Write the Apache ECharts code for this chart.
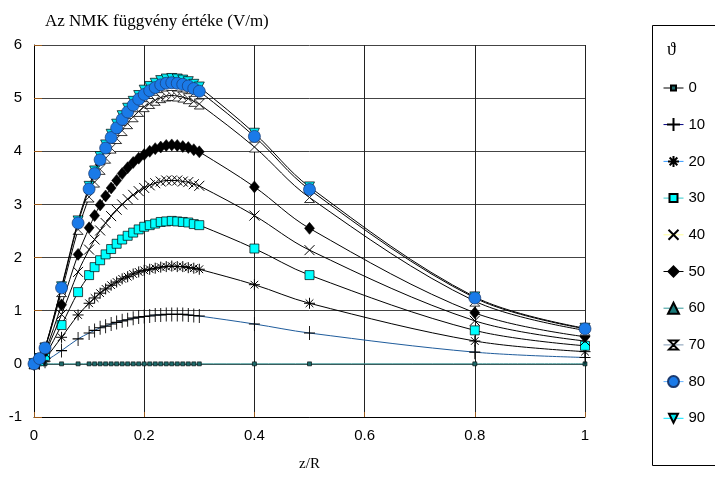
<!DOCTYPE html>
<html>
<head>
<meta charset="utf-8">
<script src="https://cdn.jsdelivr.net/npm/echarts@6/dist/echarts.min.js"></script>
<style>html,body{margin:0;padding:0;background:#fff}#c{width:715px;height:477px}</style>
</head>
<body>
<div id="c"></div>
<script>
// x positions (z/R)
const zR = [0, 0.01, 0.02, 0.05, 0.08, 0.10, 0.11, 0.12, 0.13, 0.14, 0.15, 0.16, 0.17, 0.18, 0.19, 0.20,
  0.21, 0.22, 0.23, 0.24, 0.25, 0.26, 0.27, 0.28, 0.29, 0.30, 0.4, 0.5, 0.8, 1.0];
const xTicks = ['0', '0.2', '0.4', '0.6', '0.8', '1'];
const yTicks = ['-1', '0', '1', '2', '3', '4', '5', '6'];
const seriesNames = ['0', '10', '20', '30', '40', '50', '60', '70', '80', '90'];

const v0  = [0,0,0,0,0,0,0,0,0,0,0,0,0,0,0,0,0,0,0,0,0,0,0,0,0,0,0,0,0,0];
const v10 = [0,0.02,0.05,0.25,0.47,0.58,0.63,0.68,0.71,0.75,0.78,0.81,0.83,0.86,0.88,0.89,0.9,0.92,0.92,0.93,0.93,0.93,0.93,0.92,0.91,0.9,0.75,0.58,0.22,0.12];
const v20 = [0,0.03,0.1,0.5,0.92,1.14,1.24,1.33,1.41,1.48,1.54,1.6,1.64,1.69,1.73,1.76,1.78,1.8,1.82,1.83,1.84,1.83,1.83,1.81,1.8,1.78,1.49,1.14,0.43,0.23];
const v30 = [0,0.05,0.15,0.73,1.35,1.67,1.82,1.95,2.06,2.16,2.26,2.34,2.41,2.47,2.53,2.58,2.61,2.64,2.67,2.68,2.69,2.68,2.67,2.66,2.63,2.61,2.17,1.67,0.63,0.34];
const v40 = [0,0.07,0.2,0.93,1.73,2.15,2.34,2.51,2.65,2.78,2.9,3.0,3.1,3.18,3.25,3.31,3.36,3.4,3.43,3.45,3.45,3.45,3.43,3.42,3.38,3.35,2.79,2.14,0.81,0.43];
const v50 = [0,0.08,0.23,1.11,2.06,2.56,2.79,2.99,3.16,3.31,3.45,3.58,3.69,3.79,3.87,3.94,4.0,4.05,4.08,4.11,4.12,4.11,4.09,4.07,4.03,3.99,3.33,2.55,0.96,0.51];
const v60 = [];
const v70 = [0,0.1,0.29,1.36,2.53,3.14,3.42,3.66,3.87,4.06,4.24,4.39,4.52,4.65,4.75,4.84,4.9,4.96,5.01,5.04,5.05,5.04,5.02,4.99,4.94,4.89,4.08,3.13,1.18,0.63];
const v80 = [0,0.1,0.3,1.43,2.65,3.29,3.58,3.84,4.06,4.26,4.44,4.6,4.74,4.87,4.98,5.07,5.14,5.2,5.25,5.28,5.29,5.28,5.26,5.23,5.18,5.13,4.28,3.28,1.24,0.66];
const v90 = [0,0.1,0.3,1.45,2.69,3.34,3.63,3.9,4.12,4.32,4.51,4.67,4.81,4.94,5.05,5.15,5.22,5.28,5.33,5.36,5.37,5.36,5.34,5.31,5.26,5.21,4.34,3.33,1.26,0.67];
const values = [v0, v10, v20, v30, v40, v50, v60, v70, v80, v90];

const PLUS = 'path://M0,5L10,5M5,0L5,10';
const STAR = 'path://M0,5L10,5M5,0L5,10M1.5,1.5L8.5,8.5M8.5,1.5L1.5,8.5';
const XMARK = 'path://M0,0L10,10M10,0L0,10';
const HOUR = 'path://M0,0L10,0L5,5L10,10L0,10L5,5Z';

const styles = [
  {symbol:'rect', size:4, leg:5, item:{color:'#1d6b6b', borderColor:'#000', borderWidth:0.6}, line:'#2e8b8b', legLine:'#000'},
  {symbol:PLUS, size:[11,14], leg:13, item:{color:'transparent', borderColor:'#000', borderWidth:1}, line:'#1f5c9c', legLine:'#000080'},
  {symbol:STAR, size:11, leg:11, item:{color:'transparent', borderColor:'#000', borderWidth:1}, line:'#000', legLine:'#3399ff'},
  {symbol:'rect', size:9, leg:8, item:{color:'#00ffff', borderColor:'#000', borderWidth:0.7}, line:'#000', legLine:'#33cccc'},
  {symbol:XMARK, size:10, leg:10, item:{color:'transparent', borderColor:'#000', borderWidth:1}, line:'#000', legLine:'#ffff99'},
  {symbol:'diamond', size:[10,12], leg:10, item:{color:'#000', borderColor:'#000', borderWidth:0.5}, line:'#000', legLine:'#000'},
  {symbol:'triangle', size:11, leg:11, item:{color:'#1a7a7a', borderColor:'#000', borderWidth:0.6}, line:'#000', legLine:'#339999'},
  {symbol:HOUR, size:10, leg:9, item:{color:'#fff', borderColor:'#000', borderWidth:0.8}, line:'#000', legLine:'#8099b3'},
  {symbol:'circle', size:12, leg:11, item:{color:'#1a7ae8', borderColor:'#1a3a70', borderWidth:0.7}, line:'#000', legLine:'#66b3ff'},
  {symbol:'triangle', size:10, leg:9, rotate:180, item:{color:'#00e8f0', borderColor:'#000', borderWidth:0.7}, line:'#000', legLine:'#00e5ff'}
];

const series = seriesNames.map((name, k) => ({
  name: name,
  type: 'line',
  smooth: 0.35,
  z: k === 8 ? 4 : 2 + k * 0.01,
  symbol: styles[k].symbol,
  symbolSize: styles[k].size,
  symbolRotate: styles[k].rotate || 0,
  showAllSymbol: true,
  itemStyle: styles[k].item,
  lineStyle: {color: styles[k].line, width: 1},
  emphasis: {disabled: true},
  data: values[k].map((v, i) => [zR[i], v])
}));

// one legend per entry so every icon keeps its own marker size
const legendCenters0 = 88, legendStep = 36.7;
const legends = seriesNames.map((n, k) => {
  const h = styles[k].leg / 0.8;
  const center = legendCenters0 + k * legendStep;
  return {
    orient: 'vertical', left: 663, top: center - Math.max(h / 2, 8), padding: 0,
    itemWidth: 20, itemHeight: h,
    textStyle: {fontFamily: 'Liberation Sans', fontSize: 15, color: '#000', lineHeight: 16},
    selectedMode: false,
    data: [{name: n, lineStyle: {color: styles[k].legLine, width: 1}}]
  };
});

const chart = echarts.init(document.getElementById('c'), null, {renderer: 'canvas'});
chart.setOption({
  animation: false,
  backgroundColor: '#fff',
  title: {
    text: 'Az NMK függvény értéke (V/m)', left: 40, top: 8,
    textStyle: {fontFamily: 'Liberation Serif', fontSize: 17, fontWeight: 'normal', color: '#000'}
  },
  grid: {left: 34, right: 130, top: 45, bottom: 60, containLabel: false},
  xAxis: {
    type: 'value', min: 0, max: 1, interval: 0.2,
    name: 'z/R', nameLocation: 'middle', nameGap: 40,
    nameTextStyle: {fontFamily: 'Liberation Serif', fontSize: 15, color: '#000'},
    axisLine: {onZero: false, lineStyle: {color: '#000', width: 1}},
    axisTick: {inside: true, length: 5, lineStyle: {color: '#9a5a1a'}},
    axisLabel: {fontFamily: 'Liberation Sans', fontSize: 15, color: '#000', margin: 11,
      formatter: (v) => xTicks[Math.round(v / 0.2)]},
    splitLine: {show: true, lineStyle: {color: '#222', width: 1}}
  },
  yAxis: {
    type: 'value', min: -1, max: 6, interval: 1,
    axisLine: {show: true, onZero: false, lineStyle: {color: '#000', width: 1}},
    axisTick: {show: true, inside: true, length: 8, lineStyle: {color: '#9a5a1a'}},
    axisLabel: {fontFamily: 'Liberation Sans', fontSize: 15, color: '#000', margin: 12,
      formatter: (v) => yTicks[Math.round(v) + 1]},
    splitLine: {show: true, lineStyle: {color: '#444', width: 1}}
  },
  legend: legends,
  graphic: [
    {type: 'rect', shape: {x: 652.5, y: 25.5, width: 80, height: 440}, style: {fill: 'none', stroke: '#000', lineWidth: 1}, z: 10},
    {type: 'text', left: 667, top: 41, style: {text: 'ϑ', font: '18px "Liberation Serif"', fill: '#000'}, z: 10}
  ],
  series: series
});
</script>
</body>
</html>
